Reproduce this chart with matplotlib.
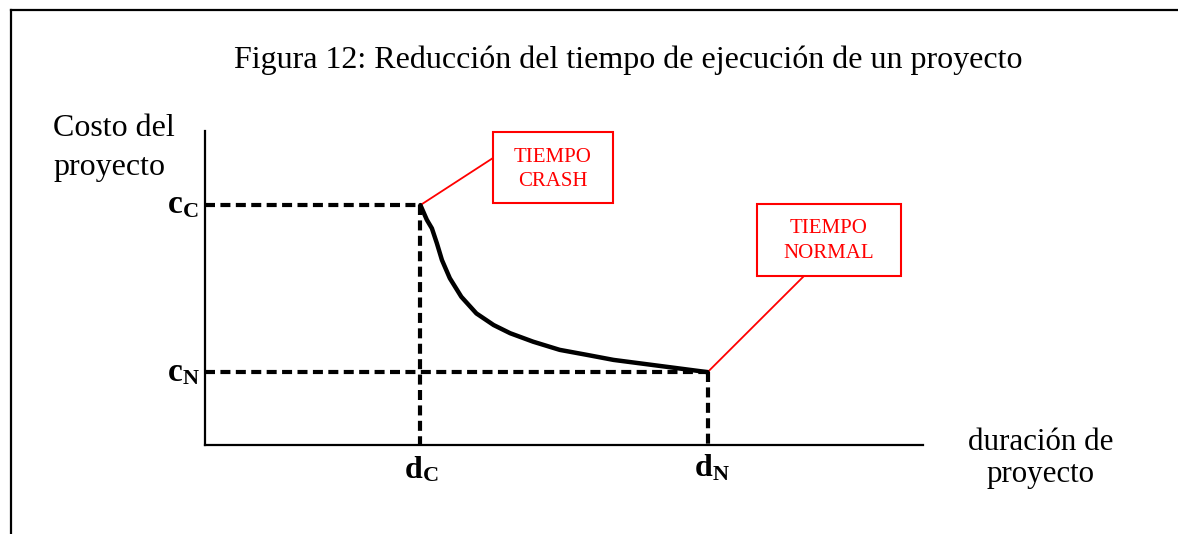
import matplotlib
matplotlib.use("Agg")
import matplotlib.pyplot as plt
from matplotlib.patches import Rectangle
from matplotlib.lines import Line2D

# ---- data ----
duration = [3.0, 3.09, 3.16, 3.23, 3.3, 3.41, 3.57, 3.78, 4.02, 4.25, 4.57,
            4.94, 5.32, 5.69, 6.06, 6.43, 7.0]
cost = [7.64, 7.17, 6.9, 6.42, 5.89, 5.31, 4.72, 4.19, 3.82, 3.56, 3.29,
        3.03, 2.87, 2.71, 2.6, 2.49, 2.32]
d_crash, d_normal = 3.0, 7.0
c_crash, c_normal = 7.64, 2.32
x_max, y_max = 10.0, 10.0

title = "Figura 12: Reducción del tiempo de ejecución de un proyecto"
ylabel_lines = ["Costo del", "proyecto"]
xlabel_lines = ["duración de", "proyecto"]
box_crash_lines = ["TIEMPO", "CRASH"]
box_normal_lines = ["TIEMPO", "NORMAL"]

SERIF = ["Liberation Serif", "DejaVu Serif"]
plt.rcParams["font.family"] = SERIF

W, H = 1178, 534
fig = plt.figure(figsize=(W / 100, H / 100), dpi=100)
fig.patch.set_facecolor("white")

def fx(px):
    return px / W

def fy(py):
    return 1 - py / H

# border (top + left)
fig.add_artist(Line2D([fx(11), 1.0], [fy(10), fy(10)], color="black", lw=1.6,
                      transform=fig.transFigure))
fig.add_artist(Line2D([fx(11), fx(11)], [fy(10), 0.0], color="black", lw=1.6,
                      transform=fig.transFigure))

ax = fig.add_axes([fx(205), fy(445), fx(923) - fx(205), fy(131) - fy(445)])
ax.set_xlim(0, x_max)
ax.set_ylim(0, y_max)
for s in ["top", "right"]:
    ax.spines[s].set_visible(False)
for s in ["left", "bottom"]:
    ax.spines[s].set_linewidth(1.6)
ax.set_xticks([])
ax.set_yticks([])

dash_kw = dict(color="black", lw=3.0, dashes=(2.4, 1.3), solid_capstyle="butt",
               dash_capstyle="butt", clip_on=False)
ax.plot([0, d_crash], [c_crash, c_crash], **dash_kw)
ax.plot([0, d_normal], [c_normal, c_normal], **dash_kw)
ax.plot([d_crash, d_crash], [c_crash, 0], **dash_kw)
ax.plot([d_normal, d_normal], [c_normal, 0], **dash_kw)

ax.plot(duration, cost, color="black", lw=3.2, solid_capstyle="round",
        solid_joinstyle="round", zorder=5)

# axis symbol labels (letter + subscript)
def sym(x, y, main, sub, dx_main, dy_main, dx_sub, dy_sub, xc, yc, msize=24):
    ax.annotate(main, xy=(x, y), xycoords=(xc, yc), xytext=(dx_main, dy_main),
                textcoords="offset pixels", ha="right", va="baseline",
                fontsize=msize, fontweight="bold", annotation_clip=False)
    ax.annotate(sub, xy=(x, y), xycoords=(xc, yc), xytext=(dx_sub, dy_sub),
                textcoords="offset pixels", ha="left", va="baseline",
                fontsize=16, fontweight="bold", annotation_clip=False)

sym(0, c_crash, "c", "C", -22, -8, -22, -12, "axes fraction", "data")
sym(0, c_normal, "c", "N", -22, -9, -22, -12, "axes fraction", "data")
sym(d_crash, 0, "d", "C", 2, -33, 2, -36, "data", "axes fraction", 23)
sym(d_normal, 0, "d", "N", 5, -31, 5, -35, "data", "axes fraction", 23)

# titles / labels
fig.text(fx(628.5), fy(68), title, ha="center", va="baseline", fontsize=23)
fig.text(fx(53), fy(136), ylabel_lines[0], ha="left", va="baseline", fontsize=23)
fig.text(fx(53), fy(175), ylabel_lines[1], ha="left", va="baseline", fontsize=23)
fig.text(fx(1041), fy(450), xlabel_lines[0], ha="center", va="baseline", fontsize=22.3)
fig.text(fx(1041), fy(482), xlabel_lines[1], ha="center", va="baseline", fontsize=22.3)

# red callout boxes
def callout(px0, py0, px1, py1, lines, base1, base2, anchor, pt):
    fig.add_artist(Rectangle((fx(px0), fy(py1)), fx(px1) - fx(px0), fy(py0) - fy(py1),
                             transform=fig.transFigure, fill=False,
                             edgecolor="red", lw=1.5))
    cx = (px0 + px1) / 2
    fig.text(fx(cx), fy(base1), lines[0], ha="center", va="baseline",
             fontsize=15, color="red")
    fig.text(fx(cx), fy(base2), lines[1], ha="center", va="baseline",
             fontsize=15, color="red")
    ax.annotate("", xy=pt, xycoords="data", xytext=(fx(anchor[0]), fy(anchor[1])),
                textcoords="figure fraction",
                arrowprops=dict(arrowstyle="-", color="red", lw=1.3,
                                shrinkA=0, shrinkB=0),
                annotation_clip=False)

callout(493, 132, 613, 203, box_crash_lines, 162, 186, (493, 158), (d_crash, c_crash))
callout(757, 204, 901, 276, box_normal_lines, 233, 258, (804, 276), (d_normal, c_normal))

fig.savefig("out.png", dpi=100, facecolor="white")
